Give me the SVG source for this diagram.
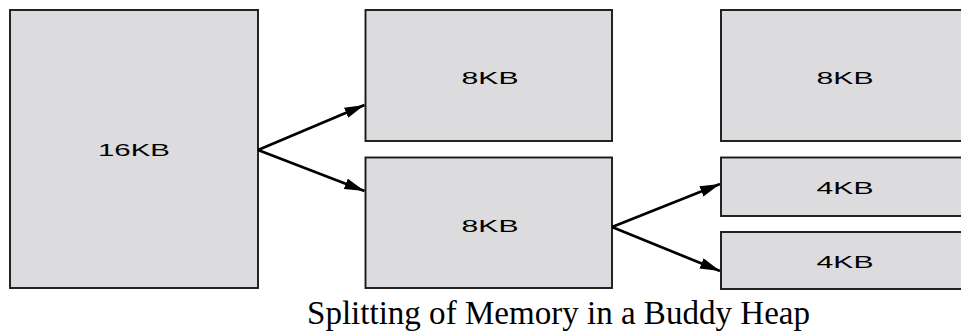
<svg xmlns="http://www.w3.org/2000/svg" width="961" height="332" viewBox="0 0 961 332">
<style>
.box{fill:#dcdbde;stroke:#1a1a1a;stroke-width:1.9}
.lbl{font-family:"Liberation Sans",Arial,sans-serif;font-size:17px;fill:#000;text-anchor:middle}
.conn{stroke:#000;stroke-width:2.7;fill:none}
.cap{font-family:"Liberation Serif","Times New Roman",serif;font-size:33px;fill:#000}
</style>
<defs>
<marker id="ah" markerUnits="userSpaceOnUse" markerWidth="22" markerHeight="12" refX="20" refY="5.5" orient="auto">
<path d="M0,0 L20,5.5 L0,11 Z" fill="#000"/>
</marker>
</defs>
<rect width="961" height="332" fill="#fff"/>
<g id="n16">
<rect class="box" x="10" y="10" width="248" height="278"/>
<text class="lbl" x="134" y="156" textLength="72" lengthAdjust="spacingAndGlyphs">16KB</text>
</g>
<g id="n8a">
<rect class="box" x="365.5" y="10" width="246.5" height="131"/>
<text class="lbl" x="490" y="84" textLength="57" lengthAdjust="spacingAndGlyphs">8KB</text>
</g>
<g id="n8b">
<rect class="box" x="365.5" y="157.5" width="246.5" height="130.5"/>
<text class="lbl" x="490" y="231.5" textLength="57" lengthAdjust="spacingAndGlyphs">8KB</text>
</g>
<g id="n8c">
<rect class="box" x="721" y="10" width="260" height="131"/>
<text class="lbl" x="845" y="84" textLength="57" lengthAdjust="spacingAndGlyphs">8KB</text>
</g>
<g id="n4a">
<rect class="box" x="721" y="157.5" width="260" height="58.5"/>
<text class="lbl" x="845" y="194" textLength="57" lengthAdjust="spacingAndGlyphs">4KB</text>
</g>
<g id="n4b">
<rect class="box" x="721" y="232" width="260" height="57"/>
<text class="lbl" x="845" y="268" textLength="57" lengthAdjust="spacingAndGlyphs">4KB</text>
</g>
<g id="connectors">
<path class="conn" d="M258,150 L364.5,105" marker-end="url(#ah)"/>
<path class="conn" d="M258,150 L364.5,191" marker-end="url(#ah)"/>
<path class="conn" d="M612,227 L720,184" marker-end="url(#ah)"/>
<path class="conn" d="M612,227 L720,271" marker-end="url(#ah)"/>
</g>
<text class="cap" x="307" y="324" textLength="503" lengthAdjust="spacingAndGlyphs">Splitting of Memory in a Buddy Heap</text>
</svg>
